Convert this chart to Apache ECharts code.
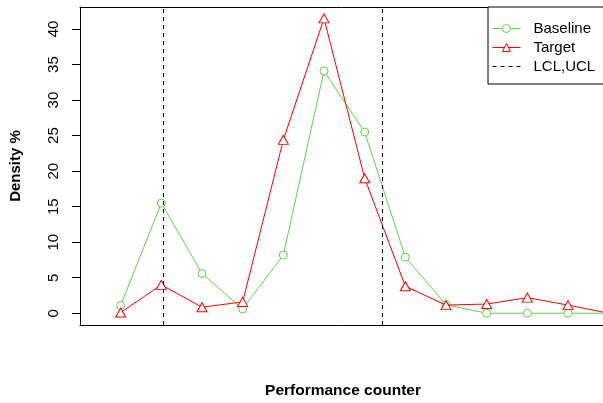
<!DOCTYPE html>
<html>
<head>
<meta charset="utf-8">
<script src="https://cdn.jsdelivr.net/npm/echarts@6/dist/echarts.min.js"></script>
<style>
  html, body { margin: 0; padding: 0; background: #fff; }
  #chart { width: 603px; height: 403px; }
</style>
</head>
<body>
<div id="chart"></div>
<script>
// counter bins (x index)
const bins = [1, 2, 3, 4, 5, 6, 7, 8, 9, 10, 11, 12, 13]
const baseline = [1.1, 15.5, 5.6, 0.6, 8.2, 34.1, 25.5, 7.9, 1.2, 0, 0, 0, 0]
const target = [0.1, 4.0, 0.85, 1.6, 24.4, 41.5, 19.0, 3.8, 1.15, 1.3, 2.2, 1.15, 0]
const yTicks = [0, 5, 10, 15, 20, 25, 30, 35, 40]
// control limits (vertical dashed lines)
const lclX = 2.05
const uclX = 7.44

const FONT = "'Liberation Sans', Arial, Helvetica, sans-serif"
const GREEN = '#61D04F'
const RED = '#FF0000'

const pairs = (vals) => bins.map((b, i) => [b, vals[i]])

const myChart = echarts.init(document.getElementById('chart'))
myChart.setOption({
    animation: false,
    backgroundColor: '#fff',
    grid: {
        left: 80,
        top: 7,
        bottom: 78,
        right: 0,
    },
    xAxis: [
        {
            type: 'value',
            position: 'bottom',
            min: 0,
            max: 12.86, // plot region runs past the right edge of the picture
            axisLine: { show: true, onZero: false, lineStyle: { color: '#000', width: 1 } },
            axisTick: { show: false },
            axisLabel: { show: false },
            splitLine: { show: false },
        },
        {
            // top side of the box
            type: 'value',
            position: 'top',
            min: 0,
            max: 12.86,
            axisLine: { show: true, onZero: false, lineStyle: { color: '#000', width: 1 } },
            axisTick: { show: false },
            axisLabel: { show: false },
            splitLine: { show: false },
        },
    ],
    yAxis: {
        type: 'value',
        min: -1.65,
        max: 43.1,
        name: 'Density %',
        nameLocation: 'middle',
        nameGap: 57,
        nameTextStyle: {
            fontFamily: FONT,
            fontSize: 15,
            fontWeight: 'bold',
            color: '#000',
        },
        axisLine: { show: true, onZero: false, lineStyle: { color: '#000', width: 1 } },
        axisTick: {
            show: true,
            length: 8,
            customValues: yTicks,
            lineStyle: { color: '#000' },
        },
        axisLabel: {
            customValues: yTicks,
            rotate: 90,
            margin: 19,
            fontFamily: FONT,
            fontSize: 15,
            color: '#000',
        },
        splitLine: { show: false },
    },
    legend: {
        orient: 'vertical',
        left: 488,
        top: 7,
        padding: [14, 40, 10, 4],
        itemWidth: 28,
        itemHeight: 10,
        itemGap: 4,
        backgroundColor: '#fff',
        borderColor: '#000',
        borderWidth: 1,
        borderRadius: 0,
        itemStyle: { borderWidth: 1 },
        lineStyle: { width: 1 },
        textStyle: { fontFamily: FONT, fontSize: 15, color: '#000', padding: [0, 0, 0, 8] },
        data: ['Baseline', 'Target', 'LCL,UCL'],
    },
    series: [
        {
            name: 'Baseline',
            type: 'line',
            data: pairs(baseline),
            symbol: 'circle',
            symbolSize: 8,
            lineStyle: { color: GREEN, width: 1 },
            itemStyle: { color: '#fff', borderColor: GREEN, borderWidth: 1 },
            emphasis: { disabled: true },
            z: 3,
        },
        {
            name: 'Target',
            type: 'line',
            data: pairs(target),
            symbol: 'triangle',
            symbolSize: [10, 9],
            lineStyle: { color: RED, width: 1 },
            itemStyle: { color: '#fff', borderColor: RED, borderWidth: 1 },
            emphasis: { disabled: true },
            z: 4,
        },
        {
            name: 'LCL,UCL',
            type: 'line',
            data: [],
            symbol: 'none',
            lineStyle: { color: '#000', width: 1, type: [4, 4] },
            itemStyle: { opacity: 0 },
            markLine: {
                silent: true,
                symbol: 'none',
                label: { show: false },
                lineStyle: { color: '#000', width: 1, type: [4, 4] },
                data: [{ xAxis: lclX }, { xAxis: uclX }],
            },
            z: 2,
        },
    ],
    graphic: [
        {
            type: 'text',
            x: 343,
            y: 391,
            style: {
                text: 'Performance counter',
                fontFamily: FONT,
                fontSize: 15.5,
                fontWeight: 'bold',
                fill: '#000',
                align: 'center',
                verticalAlign: 'middle',
            },
        },
    ],
})
window.addEventListener('resize', myChart.resize)
</script>
</body>
</html>
